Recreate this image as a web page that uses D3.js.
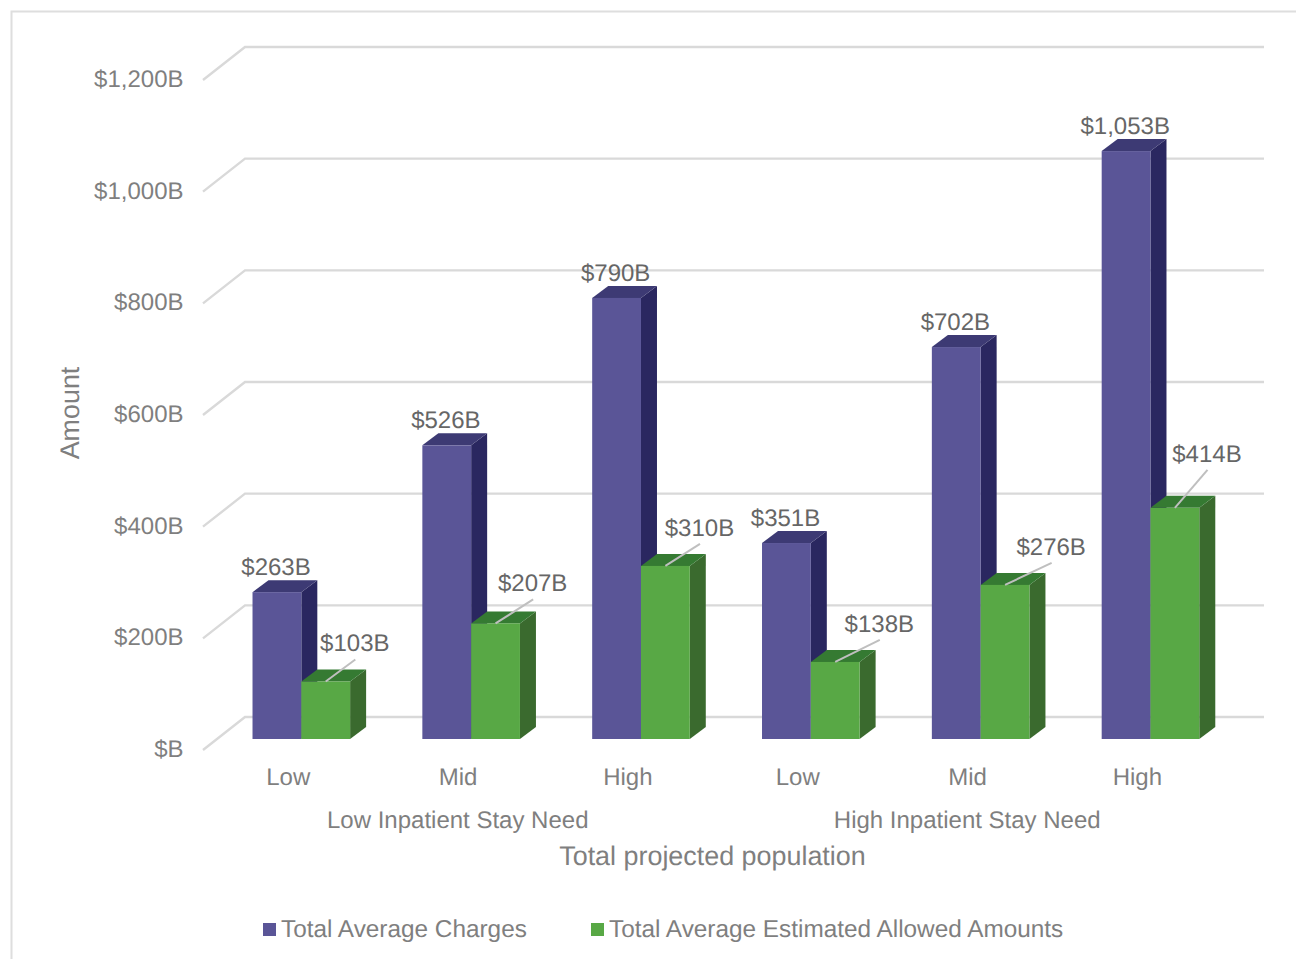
<!DOCTYPE html>
<html><head><meta charset="utf-8">
<script src="https://cdnjs.cloudflare.com/ajax/libs/d3/7.8.5/d3.min.js"></script>
<style>html,body{margin:0;padding:0;background:#fff;overflow:hidden}svg{display:block}text{font-family:"Liberation Sans",Arial,sans-serif;text-rendering:geometricPrecision}</style>
</head><body><svg id="c" width="1296" height="959"></svg>
<script>
const categories = ["Low","Mid","High","Low","Mid","High"];
const groups = ["Low Inpatient Stay Need","High Inpatient Stay Need"];
const seriesNames = ["Total Average Charges","Total Average Estimated Allowed Amounts"];
const charges = [263,526,790,351,702,1053];
const allowed = [103,207,310,138,276,414];
const yTicks = [0,200,400,600,800,1000,1200];
const allowedLabelShift = [53,61,58,68,70,56];
const allowedLabelRise = [38,40,38,38,38,54];

const W=1296,H=959,svg=d3.select("#c");
const dx=42,dy=33,bdx=16,bdy=12,barW=48.8,barShift=13.4;
const x=d3.scaleBand().domain(d3.range(6)).range([203,1222]);
const y=d3.scaleLinear().domain([0,1200]).range([750,80]);
const base=y(0)-11;
const val=v=>y(0)-y(v);
const fmt=v=>"$"+d3.format(",")(v)+"B";
const axisC="#7f7f7f",labC="#666666",grid="#d9d9d9";

svg.append("path").attr("d",`M${W},11.5H11.5V${H}`).attr("fill","none").attr("stroke","#dedede").attr("stroke-width",2);

const g=svg.append("g");
yTicks.forEach(t=>{
  g.append("path").attr("d",`M${x.range()[0]},${y(t)}L${x.range()[0]+dx},${y(t)-dy}H1264`)
   .attr("fill","none").attr("stroke",grid).attr("stroke-width",2.4);
  g.append("text").attr("x",183.5).attr("y",y(t)+7).attr("text-anchor","end").attr("font-size",24).attr("fill",axisC)
   .text(t===0?"$B":"$"+d3.format(",")(t)+"B");
});

function bar(x0,v,cols){
  const top=base-val(v);
  const b=svg.append("g");
  b.append("path").attr("d",`M${x0+barW},${top}l${bdx},${-bdy}V${base-bdy}l${-bdx},${bdy}Z`).attr("fill",cols.side);
  b.append("path").attr("d",`M${x0},${top}l${bdx},${-bdy}h${barW}l${-bdx},${bdy}Z`).attr("fill",cols.top);
  b.append("rect").attr("x",x0).attr("y",top).attr("width",barW).attr("height",base-top).attr("fill",cols.front);
}
const purple={front:"#5a5597",side:"#2a2760",top:"#3d3a74"};
const green={front:"#58a845",side:"#3a6a2e",top:"#357a32"};
categories.forEach((c,i)=>{
  const cx=x(i)+x.bandwidth()/2+barShift;
  bar(cx-barW,charges[i],purple);
  bar(cx,allowed[i],green);
});
categories.forEach((c,i)=>{
  const cx=x(i)+x.bandwidth()/2+barShift;
  svg.append("text").attr("x",cx-barW+23.5).attr("y",base-val(charges[i])-17).attr("text-anchor","middle")
    .attr("font-size",24).attr("fill",labC).text(fmt(charges[i]));
  const top=base-val(allowed[i]);
  const lx=cx+allowedLabelShift[i],ly=top-allowedLabelRise[i];
  svg.append("line").attr("x1",cx+barW/2).attr("y1",top).attr("x2",lx+1).attr("y2",ly+16)
    .attr("stroke","#bfbfbf").attr("stroke-width",2);
  svg.append("text").attr("x",lx+0.5).attr("y",ly+8).attr("text-anchor","middle")
    .attr("font-size",24).attr("fill",labC).text(fmt(allowed[i]));
  svg.append("text").attr("x",x(i)+x.bandwidth()/2+0.3).attr("y",785).attr("text-anchor","middle")
    .attr("font-size",24).attr("fill",axisC).text(c);
});
groups.forEach((t,i)=>{
  svg.append("text").attr("x",x(i*3+1)+x.bandwidth()/2).attr("y",828).attr("text-anchor","middle")
    .attr("font-size",24).attr("fill",axisC).text(t);
});
svg.append("text").attr("x",712.5).attr("y",865).attr("text-anchor","middle").attr("font-size",26.9).attr("fill",axisC).text("Total projected population");
svg.append("text").attr("transform","translate(79,413) rotate(-90)").attr("text-anchor","middle").attr("font-size",26.9).attr("fill",axisC).text("Amount");
[[263,281,"#5a5597"],[591,609,"#58a845"]].forEach((d,i)=>{
  svg.append("rect").attr("x",d[0]).attr("y",923).attr("width",13).attr("height",13).attr("fill",d[2]);
  svg.append("text").attr("x",d[1]).attr("y",937).attr("font-size",24.35).attr("fill",axisC).text(seriesNames[i]);
});
</script></body></html>
